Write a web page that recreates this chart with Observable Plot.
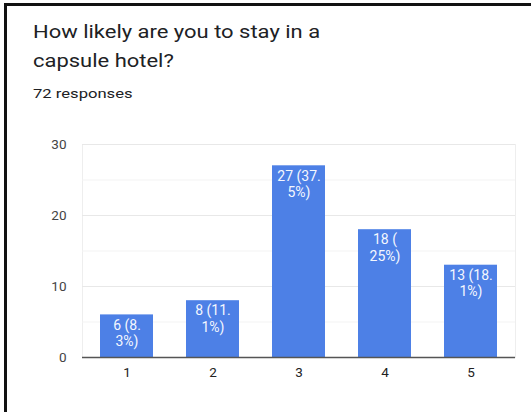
<!DOCTYPE html>
<html>
<head>
<meta charset="utf-8">
<script src="https://cdn.jsdelivr.net/npm/d3@7"></script>
<script src="https://cdn.jsdelivr.net/npm/@observablehq/plot@0.6"></script>
<style>
  html, body { margin: 0; padding: 0; background: #fff; overflow: hidden; width: 531px; height: 412px; }
  #wrap { position: relative; width: 531px; height: 412px; overflow: hidden; font-family: Roboto, "Noto Sans", sans-serif; background: #fff; }
  #border-top { position: absolute; left: 4px; top: 3px; width: 527px; height: 3px; background: #111; }
  #border-left { position: absolute; left: 4px; top: 3px; width: 3px; height: 409px; background: #111; }
  #cover { position: absolute; left: 519px; top: 6px; width: 12px; height: 406px; background: #fff; z-index: 10; }
  #title { position: absolute; left: 33px; top: 17px; font-size: 18px; line-height: 29px; color: #202124; transform: scaleX(1.22); transform-origin: left top; white-space: nowrap; }
  #sub { position: absolute; left: 33px; top: 85px; font-size: 13.5px; color: #202124; transform: scaleX(1.23); transform-origin: left top; white-space: nowrap; }
  #chart { position: absolute; left: 0; top: 0; line-height: 0; width: 531px; height: 412px; overflow: hidden; }
  #chart svg { display: block; max-width: none; }
</style>
</head>
<body>
<div id="wrap">
  <div id="chart"></div>
  <div id="border-top"></div>
  <div id="border-left"></div>
  <div id="cover"></div>
  <div id="title">How likely are you to stay in a<br>capsule hotel?</div>
  <div id="sub">72 responses</div>
</div>
<script>
const categories = ["1", "2", "3", "4", "5"];
const counts = [6, 8, 27, 18, 13];
const barLabels = ["6 (8.\n3%)", "8 (11.\n1%)", "27 (37.\n5%)", "18 (\n25%)", "13 (18.\n1%)"];
const yTicks = [0, 10, 20, 30];
const minorTicks = [5, 15, 25];

const data = categories.map((c, i) => ({cat: c, n: counts[i], label: barLabels[i]}));

const chart = Plot.plot({
  width: 531,
  height: 412,
  marginLeft: 82,
  marginRight: 16,
  marginTop: 144,
  marginBottom: 55,
  style: {fontFamily: "Roboto, 'Noto Sans', sans-serif", background: "transparent", overflow: "hidden"},
  x: {domain: categories, paddingInner: 0.385, paddingOuter: 0.1925, label: null},
  y: {domain: [0, 30], label: null},
  marks: [
    Plot.frame({stroke: "#eeeeee", strokeWidth: 1}),
    Plot.ruleY(minorTicks, {stroke: "#f3f3f3", strokeWidth: 1}),
    Plot.ruleY(yTicks.slice(1), {stroke: "#e8e8e8", strokeWidth: 1}),
    Plot.barY(data, {x: "cat", y: "n", fill: "#4d80e6"}),
    Plot.ruleY([0], {stroke: "#555", strokeWidth: 1.5}),
    Plot.text(data, {x: "cat", y: "n", text: "label", fill: "#f4f7fe", fontSize: 14, lineAnchor: "top", dy: 3, lineHeight: 1.18}),
    Plot.axisY({ticks: yTicks, tickSize: 0, tickPadding: 16, fontSize: 13.5, color: "#444", label: null}),
    Plot.axisX({tickSize: 0, tickPadding: 10, fontSize: 13.5, color: "#222", label: null})
  ]
});
chart.querySelectorAll("text").forEach(t => { if (t.getAttribute("fill") === "#f4f7fe") t.style.letterSpacing = "0.4px"; });
document.getElementById("chart").appendChild(chart);
</script>
</body>
</html>
